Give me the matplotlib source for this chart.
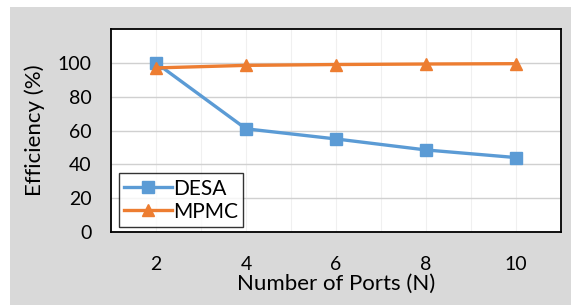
import matplotlib.pyplot as plt
from matplotlib.patches import Rectangle

ports = [2, 4, 6, 8, 10]
desa = [100, 61, 55, 48.5, 44]
mpmc = [97, 98.5, 99, 99.3, 99.5]
y_ticks = [0, 20, 40, 60, 80, 100]

plt.rcParams['font.family'] = ['Lato', 'DejaVu Sans']

fig = plt.figure(figsize=(5.71, 3.05), dpi=100)
fig.patch.set_facecolor('white')
# grey chart area like the excel export
fig.patches.append(Rectangle((10 / 571, 0), 1, 1 - 7 / 305, transform=fig.transFigure,
                             facecolor='#d9d9d9', edgecolor='none', zorder=-5))

ax = fig.add_axes([111 / 571, 1 - 232 / 305, 450 / 571, 203 / 305])
ax.set_facecolor('white')

ax.plot(ports, desa, color='#5B9BD5', linewidth=2.4, marker='s', markersize=8.5, label='DESA')
ax.plot(ports, mpmc, color='#ED7D31', linewidth=2.4, marker='^', markersize=8.5, label='MPMC')

ax.set_xlim(1, 11)
ax.set_ylim(0, 120)
ax.set_xticks(ports)
ax.set_yticks(y_ticks)
ax.set_xticks(range(1, 12), minor=True)
ax.tick_params(axis='both', which='both', length=0, labelsize=14)
ax.tick_params(axis='x', pad=17)
ax.tick_params(axis='y', pad=14)

ax.grid(axis='y', which='major', color='#d0d0d0', linewidth=1)
ax.grid(axis='x', which='both', color='#f0f0f0', linewidth=0.8)
ax.set_axisbelow(True)

for s in ax.spines.values():
    s.set_color('black')
    s.set_linewidth(1.3)

ax.set_xlabel('Number of Ports (N)', fontsize=16, labelpad=1)
ax.set_ylabel('Efficiency (%)', fontsize=16, labelpad=9)

leg = ax.legend(loc='lower left', bbox_to_anchor=(0.018, 0.025), fontsize=15,
                frameon=True, fancybox=False, edgecolor='black', handlelength=2.3,
                handletextpad=0.05, borderpad=0.25, labelspacing=0.15, borderaxespad=0)
leg.get_frame().set_linewidth(1.0)

fig.savefig('out.png', dpi=100, facecolor=fig.get_facecolor())
